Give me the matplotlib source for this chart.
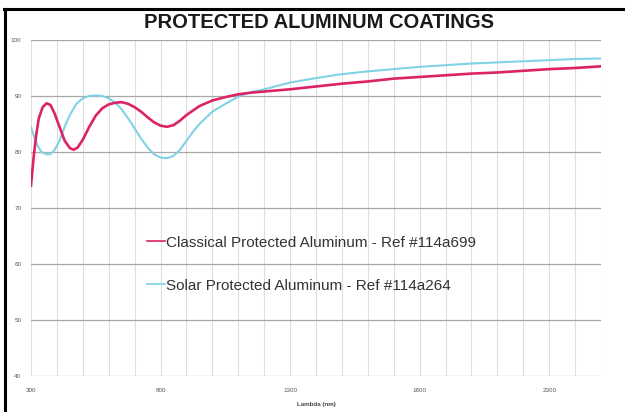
import numpy as np
import matplotlib.pyplot as plt
from matplotlib.lines import Line2D

plt.rcParams['font.family'] = ['Liberation Sans', 'DejaVu Sans']

#--- data
wl_classical = [300, 310, 320, 330, 345, 360, 375, 390, 410, 430, 450, 465, 480,
                500, 525, 550, 575, 600, 625, 650, 675, 700, 725, 750, 775, 800,
                825, 850, 875, 900, 950, 1000, 1050, 1100, 1150, 1200, 1300, 1400,
                1500, 1600, 1700, 1800, 1900, 2000, 2100, 2200, 2300, 2400, 2500]
r_classical = [74.0, 79.0, 83.0, 86.0, 88.0, 88.7, 88.4, 87.0, 84.5, 82.0, 80.7,
               80.4, 80.8, 82.2, 84.5, 86.5, 87.8, 88.5, 88.8, 88.9, 88.6, 88.0,
               87.2, 86.2, 85.3, 84.7, 84.5, 84.8, 85.6, 86.6, 88.2, 89.2, 89.8,
               90.3, 90.6, 90.8, 91.2, 91.7, 92.2, 92.6, 93.1, 93.4, 93.7, 94.0,
               94.2, 94.5, 94.8, 95.0, 95.3]

wl_solar = [300, 310, 325, 340, 360, 375, 390, 410, 430, 450, 475, 500, 525, 550,
            575, 600, 625, 650, 675, 700, 725, 750, 775, 800, 825, 850, 875, 900,
            925, 950, 1000, 1050, 1100, 1150, 1200, 1300, 1400, 1500, 1600, 1700,
            1800, 1900, 2000, 2100, 2200, 2300, 2400, 2500]
r_solar = [84.5, 83.0, 81.2, 80.0, 79.6, 79.6, 80.3, 82.0, 84.5, 86.6, 88.6, 89.6,
           90.0, 90.1, 90.0, 89.6, 88.8, 87.6, 86.0, 84.2, 82.4, 80.8, 79.6, 79.0,
           78.9, 79.3, 80.4, 82.0, 83.6, 85.0, 87.2, 88.6, 89.9, 90.7, 91.2, 92.4,
           93.2, 93.9, 94.4, 94.8, 95.2, 95.5, 95.8, 96.0, 96.2, 96.4, 96.6, 96.7]

x_ticks = [300, 800, 1300, 1800, 2300]
y_ticks = [40, 50, 60, 70, 80, 90, 100]

#--- plot
fig = plt.figure(figsize=(6.25, 4.12), dpi=100)
ax = fig.add_axes([31 / 625, 1 - 376 / 412, 570 / 625, 336 / 412])

ax.set_xlim(300, 2500)
ax.set_ylim(40, 100)

ax.set_xticks(np.arange(300, 2501, 100), minor=True)
ax.set_xticks(x_ticks)
ax.set_yticks(y_ticks)
ax.grid(axis='x', which='both', color='#dedede', linewidth=0.8)
ax.grid(axis='y', which='major', color='#a8a8a8', linewidth=0.9)
ax.tick_params(axis='x', which='both', length=0, labelsize=4.5,
               labelcolor='#555555', pad=9)
ax.tick_params(axis='y', which='both', length=0, labelsize=4.5,
               labelcolor='#555555', pad=7)
for s in ax.spines.values():
    s.set_visible(False)

ax.plot(wl_classical, r_classical, color='#dc2366', linewidth=1.9,
        label="Classical Protected Aluminum - Ref #114a699", zorder=3)
ax.plot(wl_solar, r_solar, color='#80d2e4', linewidth=1.5,
        label="Solar Protected Aluminum - Ref #114a264", zorder=2)

ax.set_xlabel("Lambda (nm)", fontsize=4.5, fontweight='bold', color='#444444',
              labelpad=6)

leg = ax.legend(loc='upper left', bbox_to_anchor=(139 / 625, 1 - 228 / 412),
                bbox_transform=fig.transFigure, frameon=False, fontsize=11,
                handlelength=1.2, handletextpad=0.05, labelspacing=1.9,
                borderpad=0, labelcolor='#333333')
for h in leg.get_lines():
    h.set_linewidth(1.2)

fig.text(0.51, 1 - 23 / 412, "PROTECTED ALUMINUM COATINGS", ha='center',
         va='center', fontsize=14.5, fontweight='bold', color='#1a1a1a')

# black frame at top and left
fig.add_artist(Line2D([4 / 625, 1], [1 - 9 / 412, 1 - 9 / 412],
                      transform=fig.transFigure, color='black', linewidth=2.2))
fig.add_artist(Line2D([5 / 625, 5 / 625], [0, 1 - 9 / 412],
                      transform=fig.transFigure, color='black', linewidth=2.2))

fig.savefig("out.png", dpi=100)
